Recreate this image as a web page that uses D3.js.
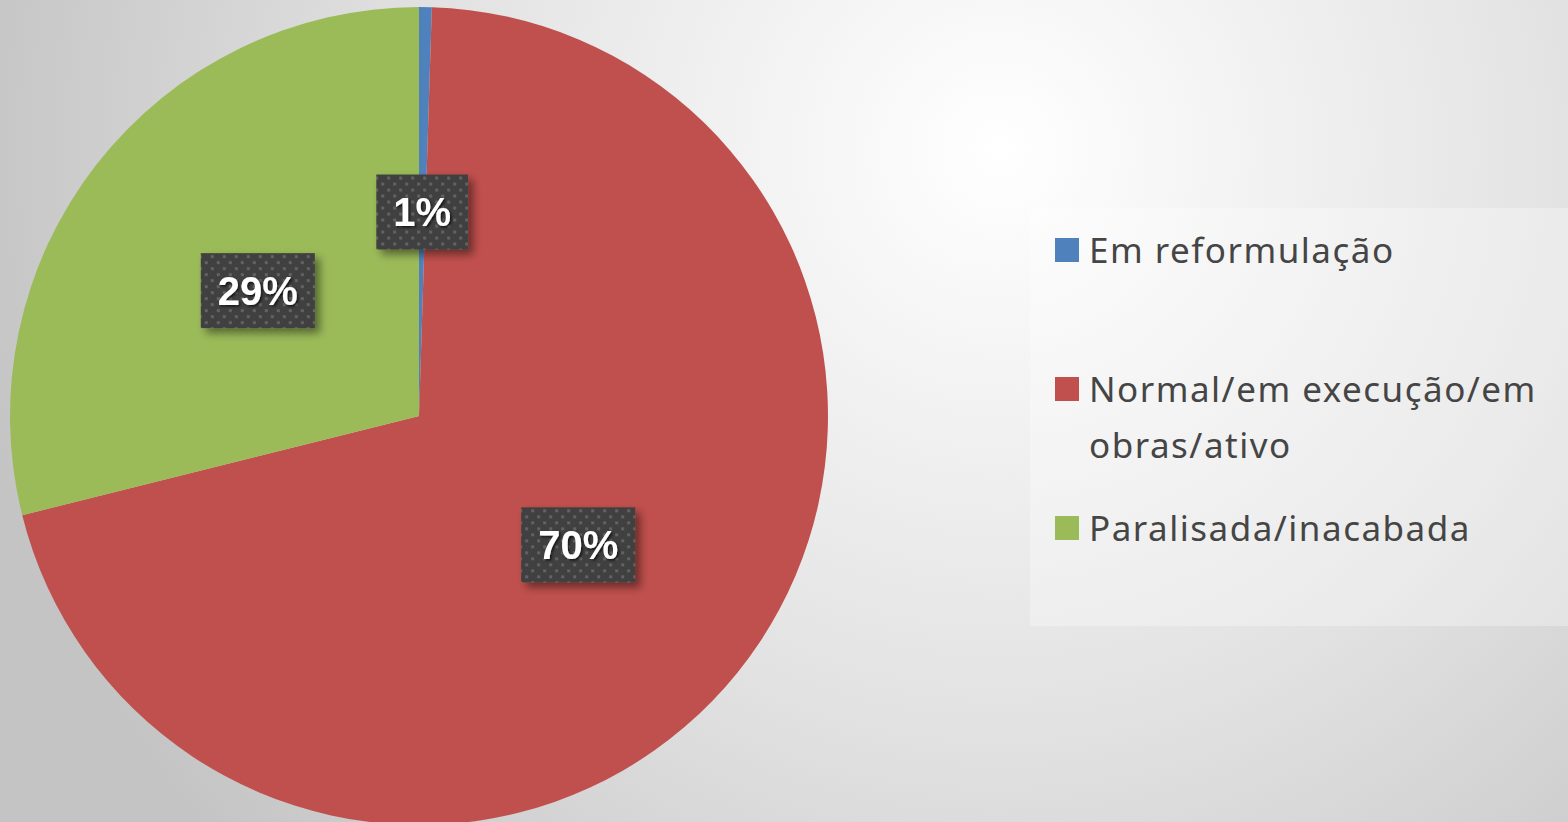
<!DOCTYPE html>
<html>
<head>
<meta charset="utf-8">
<script src="https://cdn.jsdelivr.net/npm/d3@7"></script>
<style>
  html, body { margin: 0; padding: 0; overflow: hidden; }
  svg { display: block; }
  .legend_text { font-family: "Noto Sans", sans-serif; font-size: 35px; fill: #454545; letter-spacing: 1.5px; }
  .pct_label { font-family: "Liberation Sans", Arial, sans-serif; font-weight: bold; font-size: 40px; fill: #fff; }
</style>
</head>
<body>
<div id="chart"></div>
<script>
var
    width = 1568,
    height = 822,
    categories = ['Em reformulação', 'Normal/em execução/em obras/ativo', 'Paralisada/inacabada'],
    legend_lines = [['Em reformulação'], ['Normal/em execução/em', 'obras/ativo'], ['Paralisada/inacabada']],
    values = [0.5, 70.6, 28.9],
    labels = ['1%', '70%', '29%'],
    colors = ['#4F81BD', '#C0504D', '#9BBB59'];

var cx = 419, cy = 416, radius = 409;

var svg = d3.select("#chart").append("svg")
    .attr("width", width)
    .attr("height", height);

var defs = svg.append("defs");

// background gradient
var bg = defs.append("radialGradient")
    .attr("id", "bg")
    .attr("gradientUnits", "userSpaceOnUse")
    .attr("cx", 1000).attr("cy", 150).attr("r", 1050);
bg.append("stop").attr("offset", "0%").attr("stop-color", "#ffffff");
bg.append("stop").attr("offset", "55%").attr("stop-color", "#e2e2e2");
bg.append("stop").attr("offset", "100%").attr("stop-color", "#c4c4c4");

// dotted label fill
var pat = defs.append("pattern")
    .attr("id", "dots")
    .attr("patternUnits", "userSpaceOnUse")
    .attr("width", 12).attr("height", 12);
pat.append("rect").attr("width", 12).attr("height", 12).attr("fill", "#404040");
pat.append("rect").attr("x", 1).attr("y", 1).attr("width", 3).attr("height", 3).attr("fill", "#626262");
pat.append("rect").attr("x", 7).attr("y", 7).attr("width", 3).attr("height", 3).attr("fill", "#626262");

var shadow = defs.append("filter").attr("id", "shadow")
    .attr("x", "-20%").attr("y", "-20%").attr("width", "150%").attr("height", "150%");
shadow.append("feDropShadow")
    .attr("dx", 5).attr("dy", 5).attr("stdDeviation", 4)
    .attr("flood-color", "#000").attr("flood-opacity", 0.45);

var tshadow = defs.append("filter").attr("id", "tshadow");
tshadow.append("feDropShadow")
    .attr("dx", 1.5).attr("dy", 1.5).attr("stdDeviation", 1)
    .attr("flood-color", "#000").attr("flood-opacity", 0.7);

svg.append("rect")
    .attr("width", width).attr("height", height)
    .attr("fill", "url(#bg)");

// pie
var pie = d3.pie().sort(null).value(function(d) { return d; });
var arc = d3.arc().innerRadius(0).outerRadius(radius);

var g = svg.append("g").attr("transform", "translate(" + cx + "," + cy + ")");

var arcs = pie(values);

g.selectAll(".slice")
    .data(arcs)
  .enter().append("path")
    .attr("class", "slice")
    .attr("d", arc)
    .attr("fill", function(d, i) { return colors[i]; });

// data labels
var lbl = g.selectAll(".lbl")
    .data(arcs)
  .enter().append("g")
    .attr("class", "lbl")
    .attr("transform", function(d) { var c = arc.centroid(d); return "translate(" + c[0] + "," + c[1] + ")"; });

lbl.append("text")
    .attr("class", "pct_label")
    .attr("text-anchor", "middle")
    .attr("dy", "0.36em")
    .attr("filter", "url(#tshadow)")
    .text(function(d, i) { return labels[i]; })
    .each(function() {
        var b = this.getBBox(), p = this.parentNode;
        d3.select(p).insert("rect", "text")
            .attr("x", b.x - 17).attr("y", -37)
            .attr("width", b.width + 34).attr("height", 75)
            .attr("fill", "url(#dots)")
            .attr("filter", "url(#shadow)");
    });

// legend
var legend = svg.append("g");
legend.append("rect")
    .attr("x", 1030).attr("y", 208)
    .attr("width", 545).attr("height", 418)
    .attr("fill", "#ffffff").attr("fill-opacity", 0.3);

var rowY = [250, 389, 528];

var item = legend.selectAll(".item")
    .data(categories)
  .enter().append("g")
    .attr("class", "item")
    .attr("transform", function(d, i) { return "translate(1055," + rowY[i] + ")"; });

item.append("rect")
    .attr("x", 0).attr("y", -12)
    .attr("width", 24).attr("height", 24)
    .attr("fill", function(d, i) { return colors[i]; });

item.append("text")
    .attr("class", "legend_text")
    .attr("x", 34)
    .attr("y", 13)
    .selectAll("tspan")
    .data(function(d, i) { return legend_lines[i]; })
  .enter().append("tspan")
    .attr("x", 34)
    .attr("dy", function(d, j) { return j ? 56 : 0; })
    .text(function(d) { return d; });
</script>
</body>
</html>
